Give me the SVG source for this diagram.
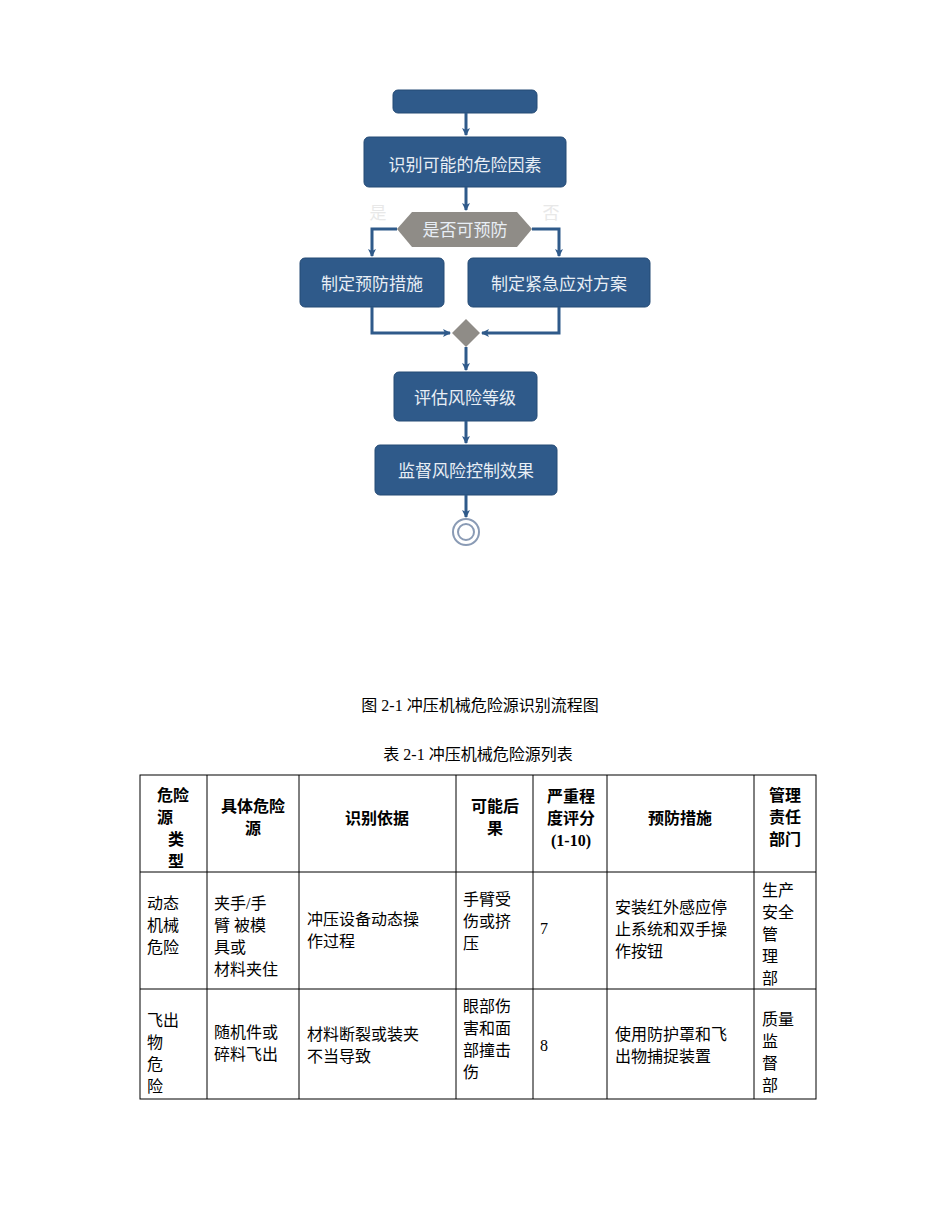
<svg xmlns="http://www.w3.org/2000/svg" width="950" height="1230" viewBox="0 0 950 1230">
<style>
.b{fill:#2f5a8a;stroke:#244a75;stroke-width:1}
.bt{font-family:"Noto Sans CJK SC",sans-serif;font-size:17px;fill:#e8eef5;text-anchor:middle}
.c{stroke:#2f5a8a;stroke-width:3;fill:none}
.t{font-family:"Liberation Serif","Noto Sans CJK SC",serif;font-size:16px;fill:#000}
.h{font-family:"Liberation Serif","Noto Sans CJK SC",serif;font-size:16px;font-weight:bold;fill:#000;text-anchor:middle}
.g{stroke:#000;stroke-width:1;fill:none}
</style>
<defs><marker id="a" markerWidth="8" markerHeight="8" refX="7" refY="4" orient="auto" markerUnits="userSpaceOnUse"><path d="M0,0 L8,4 L0,8 L2,4 Z" fill="#2f5a8a"/></marker></defs>
<g id="n0"><rect class="b" x="393" y="90" width="144" height="23" rx="5"/></g>
<g id="n1"><rect class="b" x="364" y="137" width="202" height="50" rx="5"/><text class="bt" x="465" y="171">识别可能的危险因素</text></g>
<g id="n2"><polygon points="397,229 412,212 517,212 532,229 517,247 412,247" fill="#8f8c87"/><text class="bt" x="465" y="236">是否可预防</text></g>
<g id="n3"><rect class="b" x="300" y="258" width="144" height="49" rx="5"/><text class="bt" x="372" y="290">制定预防措施</text></g>
<g id="n4"><rect class="b" x="468" y="258" width="182" height="49" rx="5"/><text class="bt" x="559" y="290">制定紧急应对方案</text></g>
<g id="n5"><polygon points="466,319 480,333 466,347 452,333" fill="#8f8c87"/></g>
<g id="n6"><rect class="b" x="394" y="372" width="143" height="49" rx="5"/><text class="bt" x="465" y="404">评估风险等级</text></g>
<g id="n7"><rect class="b" x="375" y="445" width="182" height="50" rx="5"/><text class="bt" x="466" y="477">监督风险控制效果</text></g>
<g id="n8"><circle cx="466" cy="532" r="13" fill="#fff" stroke="#8a9bb5" stroke-width="2"/><circle cx="466" cy="532" r="8" fill="#fff" stroke="#8a9bb5" stroke-width="2"/></g>
<g id="connectors">
<path class="c" d="M466,113 V135" marker-end="url(#a)"/>
<path class="c" d="M466,187 V210" marker-end="url(#a)"/>
<path class="c" d="M397,229 H372 V256" marker-end="url(#a)"/>
<path class="c" d="M532,229 H559 V256" marker-end="url(#a)"/>
<path class="c" d="M372,307 V333 H450" marker-end="url(#a)"/>
<path class="c" d="M559,307 V333 H482" marker-end="url(#a)"/>
<path class="c" d="M466,347 V370" marker-end="url(#a)"/>
<path class="c" d="M466,421 V443" marker-end="url(#a)"/>
<path class="c" d="M466,495 V517" marker-end="url(#a)"/>
<text x="378" y="219" class="bt" fill="#eee" style="fill:#e8e8e8">是</text>
<text x="551" y="219" class="bt" style="fill:#e8e8e8">否</text>
</g>
<text class="t" x="480" y="711" text-anchor="middle" font-size="14">图  2-1 冲压机械危险源识别流程图</text>
<text class="t" x="478" y="760" text-anchor="middle" font-size="14">表  2-1 冲压机械危险源列表</text>
<g id="table">
<rect class="g" x="140" y="775" width="676" height="324"/>
<path class="g" d="M140,872 H816 M140,989 H816 M207,775 V1099 M299,775 V1099 M456,775 V1099 M533,775 V1099 M607,775 V1099 M754,775 V1099"/>
<text class="h" x="173" y="801">危险</text><text class="h" x="165" y="823">源</text><text class="h" x="176" y="845">类</text><text class="h" x="176" y="867">型</text>
<text class="h" x="253" y="812">具体危险</text><text class="h" x="253" y="834">源</text>
<text class="h" x="377" y="824">识别依据</text>
<text class="h" x="495" y="812">可能后</text><text class="h" x="495" y="834">果</text>
<text class="h" x="571" y="802">严重程</text><text class="h" x="571" y="824">度评分</text><text class="h" x="571" y="846">(1-10)</text>
<text class="h" x="680" y="824">预防措施</text>
<text class="h" x="785" y="801">管理</text><text class="h" x="785" y="823">责任</text><text class="h" x="785" y="845">部门</text>
<text class="t" x="147" y="909">动态</text><text class="t" x="147" y="931">机械</text><text class="t" x="147" y="953">危险</text>
<text class="t" x="214" y="909">夹手/手</text><text class="t" x="214" y="931">臂  被模</text><text class="t" x="214" y="953">具或</text><text class="t" x="214" y="975">材料夹住</text>
<text class="t" x="307" y="925">冲压设备动态操</text><text class="t" x="307" y="947">作过程</text>
<text class="t" x="463" y="905">手臂受</text><text class="t" x="463" y="927">伤或挤</text><text class="t" x="463" y="949">压</text>
<text class="t" x="540" y="934">7</text>
<text class="t" x="615" y="913">安装红外感应停</text><text class="t" x="615" y="935">止系统和双手操</text><text class="t" x="615" y="957">作按钮</text>
<text class="t" x="762" y="896">生产</text><text class="t" x="762" y="918">安全</text><text class="t" x="762" y="940">管</text><text class="t" x="762" y="962">理</text><text class="t" x="762" y="984">部</text>
<text class="t" x="147" y="1026">飞出</text><text class="t" x="147" y="1048">物</text><text class="t" x="147" y="1070">危</text><text class="t" x="147" y="1092">险</text>
<text class="t" x="214" y="1038">随机件或</text><text class="t" x="214" y="1060">碎料飞出</text>
<text class="t" x="307" y="1040">材料断裂或装夹</text><text class="t" x="307" y="1062">不当导致</text>
<text class="t" x="463" y="1012">眼部伤</text><text class="t" x="463" y="1034">害和面</text><text class="t" x="463" y="1056">部撞击</text><text class="t" x="463" y="1078">伤</text>
<text class="t" x="540" y="1051">8</text>
<text class="t" x="615" y="1040">使用防护罩和飞</text><text class="t" x="615" y="1062">出物捕捉装置</text>
<text class="t" x="762" y="1025">质量</text><text class="t" x="762" y="1047">监</text><text class="t" x="762" y="1069">督</text><text class="t" x="762" y="1091">部</text>
</g>
</svg>
